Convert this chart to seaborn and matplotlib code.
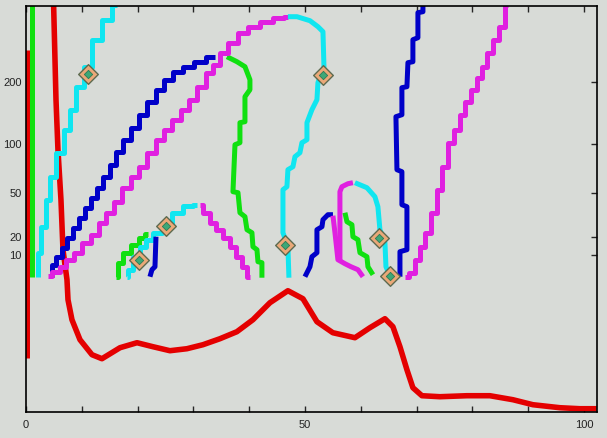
import numpy as np
import pandas as pd
import matplotlib
matplotlib.use("Agg")
import matplotlib.pyplot as plt
import seaborn as sns

# --- data (x in axis units, y in plot height units) ---
red_x = [4.93, 5.38, 5.73, 6.27, 6.63, 7.35, 7.53, 8.24, 9.68, 11.83, 13.62, 16.85, 19.9,
         22.76, 25.8, 28.85, 31.72, 34.77, 37.8, 40.68, 43.73, 46.95, 49.64, 52.15, 55.0,
         58.96, 61.65, 64.34, 65.77, 67.03, 68.28, 69.35, 70.97, 74.19, 79.03, 83.15,
         87.28, 90.86, 95.7, 99.28, 102.3]
red_y = [412, 312, 262, 212, 162, 132, 112, 92, 72, 57, 53, 64, 69, 65, 61, 63, 67, 73,
         80, 92, 109, 121, 113, 90, 79, 74, 84, 93, 85, 65, 42, 24, 16, 15, 16, 16, 12,
         7, 4, 3, 3]
red_edge_x = [0.12, 0.12]
red_edge_y = [54, 362]

green_edge_x = [1.16, 1.16]
green_edge_y = [135, 410]

cyan1_x = [2.2, 2.2, 3.1, 3.9, 4.8, 6.1, 7.4, 8.4, 9.7, 11.1, 12.7, 14.5, 16.3]
cyan1_y = [135, 159, 185, 212, 235, 259, 282, 302, 325, 345, 372, 392, 407]

blue_arc_x = [4.66, 4.84, 6.09, 6.99, 7.89, 9.14, 10.04, 11.11, 12.37, 13.26, 14.52, 15.59,
              16.85, 18.1, 19.53, 20.97, 22.58, 24.01, 25.45, 27.24, 29.03, 31.18, 33.33, 33.87]
blue_arc_y = [135, 147, 155, 164, 174, 184, 194, 204, 214, 224, 235, 247, 260, 272, 284,
              297, 310, 322, 332, 340, 345, 350, 355, 355]

green_big_x = [36.02, 37.81, 39.25, 40.14, 40.14, 39.25, 39.25, 38.35, 38.35, 37.46, 37.1,
               38.0, 38.35, 39.25, 39.61, 40.5, 40.68, 41.4, 41.58, 42.29, 42.29]
green_big_y = [355, 350, 345, 332, 322, 315, 290, 289, 269, 267, 220, 219, 199, 195, 182,
               179, 165, 162, 150, 149, 134]

cyan2_x = [18.1, 18.64, 19.89, 20.97, 22.22, 23.48, 25.27, 27.06, 29.39, 30.65]
cyan2_y = [135, 142, 155, 165, 172, 179, 189, 199, 206, 207]

mag_down_x = [31.18, 32.44, 33.51, 34.77, 36.02, 37.1, 38.35, 39.25, 40.14]
mag_down_y = [207, 199, 189, 182, 174, 165, 155, 145, 135]

green_small_x = [16.13, 16.85, 18.1, 19.53, 20.97, 21.86]
green_small_y = [135, 149, 159, 167, 174, 178]

blue_small_x = [22.22, 22.58, 23.12, 23.3]
blue_small_y = [135, 142, 145, 175]

mag_arc_x = [3.94, 5.56, 6.63, 7.89, 9.32, 10.93, 12.37, 13.8, 15.05, 16.49, 18.1, 19.53,
             20.97, 22.58, 24.01, 25.45, 27.06, 28.49, 29.93, 31.54, 32.97, 34.23, 35.3,
             37.1, 38.89, 40.68, 43.19, 45.52, 46.95]
mag_arc_y = [136, 140, 145, 152, 159, 169, 177, 189, 199, 210, 224, 235, 245, 259, 272,
             282, 292, 302, 312, 325, 339, 347, 359, 369, 379, 385, 390, 394, 395]

cyan_down_x = [46.95, 48.57, 50.9, 52.33, 53.23, 53.41, 52.33, 52.15, 51.25, 50.36, 50.36,
               49.46, 49.1, 48.21, 47.85, 46.95, 46.77, 46.06, 46.06, 46.95, 47.13]
cyan_down_y = [395, 395, 391, 385, 380, 345, 329, 312, 302, 289, 272, 269, 259, 255, 245,
               242, 225, 222, 179, 165, 134]

blue_loop_x = [50.0, 50.9, 51.25, 52.15, 52.15, 53.05, 53.23, 54.12, 55.02]
blue_loop_y = [135, 145, 155, 159, 182, 185, 192, 197, 197]

mag_loop_a_x = [55.02, 55.38, 55.91, 57.17, 58.24, 59.5, 60.39]
mag_loop_a_y = [196, 179, 152, 148, 145, 142, 135]
mag_loop_b_x = [56.27, 56.27, 56.63, 57.71, 58.6]
mag_loop_b_y = [150, 220, 225, 228, 229]

cyan_loop_x = [58.96, 61.11, 62.54, 63.08, 63.44, 64.34, 64.52, 65.23]
cyan_loop_y = [229, 224, 215, 205, 182, 169, 145, 136]

green_loop_x = [57.17, 57.53, 58.42, 58.6, 59.5, 59.86, 61.11, 61.29, 62.19]
green_loop_y = [199, 190, 187, 175, 172, 159, 155, 145, 137]

blue_right_x = [67.03, 67.03, 68.28, 68.28, 67.38, 67.38, 66.49, 66.31, 67.38, 67.38, 68.28,
                68.46, 69.35, 69.35, 70.25, 70.25, 71.15, 71.15]
blue_right_y = [135, 160, 162, 205, 207, 240, 242, 295, 297, 324, 325, 349, 350, 372, 374,
                399, 400, 412]

mag_right_x = [67.92, 69.35, 70.25, 71.15, 72.04, 73.3, 74.19, 75.09, 76.34, 77.24, 78.32,
               79.21, 80.47, 81.36, 82.26, 83.15, 84.41, 85.3, 86.38]
mag_right_y = [135, 139, 152, 165, 179, 199, 222, 245, 269, 282, 297, 310, 322, 334, 345,
               359, 372, 385, 407]

marker_x = [11.1, 20.2, 25.1, 46.4, 53.3, 63.3, 65.2]
marker_y = [338, 152, 186, 167, 337, 174, 136]

xtick_pos = [0, 10, 20, 30, 40, 50, 60, 70, 80, 90, 100]
xtick_labels = ['0', '', '', '', '', '50', '', '', '', '', '100']
ytick_pos = [157, 175, 219, 268, 330]
ytick_labels = ['10', '20', '50', '100', '200']

RED = '#e40000'
GREEN = '#10e010'
CYAN = '#10e6f0'
BLUE = '#0000c8'
MAGENTA = '#e020e0'
BG = '#d8dbd7'

sns.set_style("white", {"axes.facecolor": BG, "figure.facecolor": BG,
                        "axes.edgecolor": "black"})
plt.rcParams['font.family'] = ['Liberation Sans', 'DejaVu Sans']

fig = plt.figure(figsize=(6.07, 4.38), dpi=100)
ax = fig.add_axes([0.0428, 0.060, 0.9412, 0.927])


def curve(xs, ys, color, lw=3.6, steps=False, z=2):
    df = pd.DataFrame({'x': xs, 'y': ys})
    kw = {}
    if steps:
        kw['drawstyle'] = 'steps-mid'
    sns.lineplot(data=df, x='x', y='y', sort=False, estimator=None, color=color,
                 lw=lw, ax=ax, zorder=z, solid_capstyle='butt', **kw)


# red density-like curve underneath
curve(red_x, red_y, RED, lw=4.0, z=1)
curve(red_edge_x, red_edge_y, RED, lw=3.6, z=1)

curve(green_edge_x, green_edge_y, GREEN)
curve(cyan1_x, cyan1_y, CYAN, steps=True)
curve(blue_arc_x, blue_arc_y, BLUE, steps=True)
curve(green_big_x, green_big_y, GREEN)
curve(green_small_x, green_small_y, GREEN, steps=True)
curve(cyan2_x, cyan2_y, CYAN, steps=True)
curve(mag_down_x, mag_down_y, MAGENTA, steps=True)
curve(blue_small_x, blue_small_y, BLUE)
curve(mag_arc_x, mag_arc_y, MAGENTA, steps=True)
curve(cyan_down_x, cyan_down_y, CYAN)
curve(blue_loop_x, blue_loop_y, BLUE)
curve(mag_loop_a_x, mag_loop_a_y, MAGENTA)
curve(mag_loop_b_x, mag_loop_b_y, MAGENTA)
curve(green_loop_x, green_loop_y, GREEN)
curve(cyan_loop_x, cyan_loop_y, CYAN)
curve(blue_right_x, blue_right_y, BLUE)
curve(mag_right_x, mag_right_y, MAGENTA, steps=True)

# diamond markers
mk = pd.DataFrame({'x': marker_x, 'y': marker_y})
sns.scatterplot(data=mk, x='x', y='y', marker='D', s=100, color='#eaa878',
                edgecolor='#5d6b50', linewidth=1.0, ax=ax, zorder=5)
sns.scatterplot(data=mk, x='x', y='y', marker='D', s=18, color='#3da877',
                edgecolor='#2c7a55', linewidth=0.6, ax=ax, zorder=6)

ax.set_xlim(0, 102.4)
ax.set_ylim(0, 406)
ax.set_xlabel('')
ax.set_ylabel('')
ax.set_xticks(xtick_pos)
ax.set_xticklabels(xtick_labels)
ax.set_yticks(ytick_pos)
ax.set_yticklabels(ytick_labels)
ax.tick_params(axis='x', direction='in', top=True, bottom=True, length=4, width=1.0,
               pad=6, labelsize=8, labelcolor='#222222')
ax.tick_params(axis='y', direction='in', left=False, right=True, length=4, width=1.0,
               pad=3, labelsize=8, labelcolor='#222222')
for s in ax.spines.values():
    s.set_linewidth(1.2)
    s.set_color('black')

fig.savefig("out.png", dpi=100, facecolor=BG)
